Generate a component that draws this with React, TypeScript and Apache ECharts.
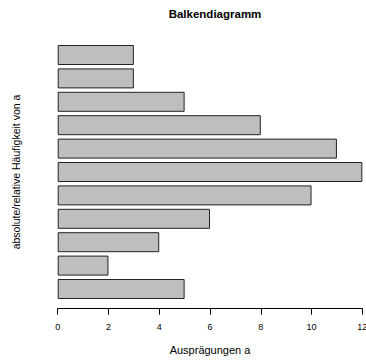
import React, { useEffect, useRef } from "react";
import * as echarts from "echarts";

const categories = ["1", "2", "3", "4", "5", "6", "7", "8", "9", "10", "11"];
const values = [5, 2, 4, 6, 10, 12, 11, 8, 5, 3, 3];
const xTicks = [0, 2, 4, 6, 8, 10, 12];

export default function App() {
  const ref = useRef<HTMLDivElement>(null);
  useEffect(() => {
    if (!ref.current) return;
    const chart = echarts.init(ref.current, undefined, { renderer: "svg" });
    const font = "Liberation Sans, Arial, sans-serif";
    chart.setOption({
      animation: false,
      backgroundColor: "#ffffff",
      title: {
        text: "Balkendiagramm",
        left: 210,
        textAlign: "center",
        top: 3,
        textStyle: { fontFamily: font, fontSize: 11.5, fontWeight: "bold", color: "#000" },
      },
      grid: {
        left: 57.7,
        right: 3.7,
        top: 43.3,
        bottom: 61.3,
        containLabel: false,
        outerBoundsMode: "none",
      },
      xAxis: {
        type: "value",
        min: xTicks[0],
        max: xTicks[xTicks.length - 1],
        interval: 2,
        offset: 8,
        name: "Ausprägungen a",
        nameLocation: "middle",
        nameGap: 36,
        nameTextStyle: { fontFamily: font, fontSize: 11, color: "#000" },
        axisLine: { show: true, lineStyle: { color: "#000", width: 1 } },
        axisTick: { show: true, length: 6, inside: false, lineStyle: { color: "#000" } },
        axisLabel: { fontFamily: font, fontSize: 9, color: "#000", margin: 14 },
        splitLine: { show: false },
      },
      yAxis: {
        type: "category",
        data: categories,
        name: "absolute/relative Häufigkeit von a",
        nameLocation: "middle",
        nameGap: 36,
        nameTextStyle: { fontFamily: font, fontSize: 10.5, color: "#000" },
        axisLine: { show: false },
        axisTick: { show: false },
        axisLabel: { show: false },
        splitLine: { show: false },
      },
      series: [
        {
          type: "bar",
          data: values,
          barWidth: 20,
          itemStyle: { color: "#bebebe", borderColor: "#222", borderWidth: 1 },
          emphasis: { disabled: true },
        },
      ],
    });
    return () => chart.dispose();
  }, []);
  return (
    <div
      ref={ref}
      style={{ position: "fixed", left: 0, top: 0, width: 366, height: 362 }}
    />
  );
}
